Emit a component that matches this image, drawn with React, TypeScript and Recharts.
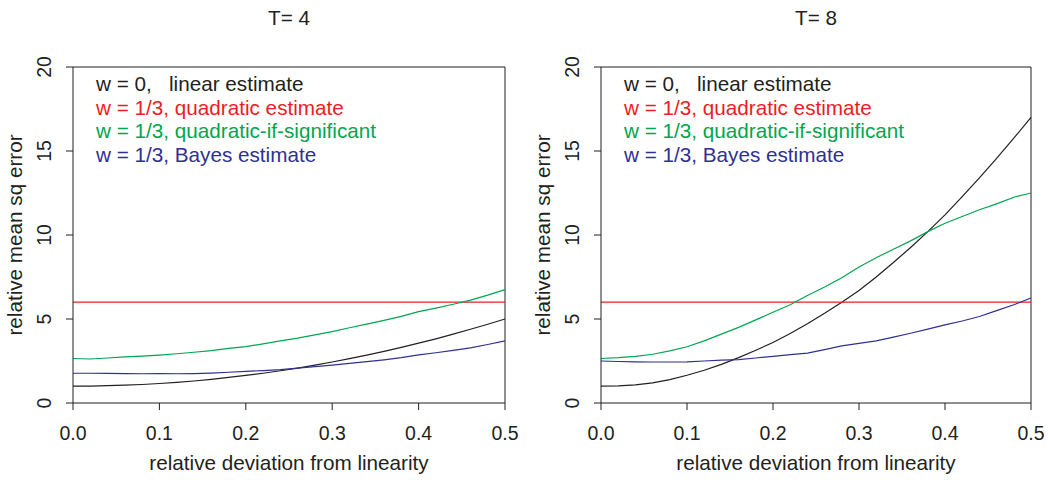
import React from 'react';
import { LineChart, Line, XAxis, YAxis, ReferenceLine } from 'recharts';

// relative deviation from linearity
const deviation = [
  0, 0.02, 0.04, 0.06, 0.08, 0.1, 0.12, 0.14, 0.16, 0.18, 0.2, 0.22, 0.24,
  0.26, 0.28, 0.3, 0.32, 0.34, 0.36, 0.38, 0.4, 0.42, 0.44, 0.46, 0.48, 0.5,
];

// T = 4
const linearT4 = [
  1.0, 1.01, 1.03, 1.06, 1.1, 1.16, 1.23, 1.31, 1.41, 1.52, 1.64, 1.77, 1.92,
  2.08, 2.25, 2.44, 2.64, 2.85, 3.07, 3.31, 3.56, 3.82, 4.1, 4.39, 4.69, 5.0,
];
const signifT4 = [
  2.65, 2.62, 2.68, 2.74, 2.79, 2.85, 2.93, 3.02, 3.12, 3.25, 3.36, 3.52, 3.7,
  3.86, 4.05, 4.25, 4.48, 4.7, 4.92, 5.16, 5.44, 5.65, 5.88, 6.12, 6.42, 6.75,
];
const bayesT4 = [
  1.77, 1.77, 1.76, 1.75, 1.74, 1.75, 1.74, 1.75, 1.78, 1.83, 1.88, 1.93, 1.99,
  2.08, 2.16, 2.26, 2.36, 2.46, 2.57, 2.7, 2.86, 2.99, 3.13, 3.28, 3.48, 3.7,
];
const quadraticT4 = 6;

// T = 8
const linearT8 = [
  1.0, 1.02, 1.08, 1.2, 1.39, 1.65, 1.95, 2.3, 2.7, 3.14, 3.6, 4.14, 4.72,
  5.34, 6.0, 6.7, 7.5, 8.36, 9.26, 10.2, 11.2, 12.28, 13.4, 14.56, 15.76, 17.0,
];
const signifT8 = [
  2.65, 2.7, 2.78, 2.9, 3.1, 3.35, 3.7, 4.1, 4.5, 4.95, 5.4, 5.85, 6.4,
  6.9, 7.45, 8.1, 8.65, 9.15, 9.65, 10.2, 10.7, 11.1, 11.5, 11.85, 12.25, 12.5,
];
const bayesT8 = [
  2.5, 2.47, 2.45, 2.44, 2.44, 2.45, 2.5, 2.55, 2.58, 2.68, 2.78, 2.88, 2.97,
  3.18, 3.4, 3.55, 3.7, 3.92, 4.15, 4.4, 4.65, 4.88, 5.15, 5.5, 5.85, 6.25,
];
const quadraticT8 = 6;

const xTicks = [0, 0.1, 0.2, 0.3, 0.4, 0.5];
const yTicks = [0, 5, 10, 15, 20];

const legendLines = [
  { text: 'w = 0,   linear estimate', color: '#231F20' },
  { text: 'w = 1/3, quadratic estimate', color: '#ED1C24' },
  { text: 'w = 1/3, quadratic-if-significant', color: '#00A651' },
  { text: 'w = 1/3, Bayes estimate', color: '#2E3192' },
];

const INK = '#231F20';
const FONT = '"Liberation Sans", Arial, Helvetica, sans-serif';
const W = 524;
const H = 480;
const TEXT_SIZE = 20.7;
const TICK_SIZE = 19.5;

const YTick = (props: any) => {
  const { x, y, payload } = props;
  return (
    <text
      transform={`translate(${x - 13}, ${y}) rotate(-90)`}
      textAnchor="middle"
      fontSize={TICK_SIZE}
      fontFamily={FONT}
      fill={INK}
    >
      {payload.value}
    </text>
  );
};

const XTick = (props: any) => {
  const { x, y, payload } = props;
  return (
    <text x={x} y={y + 28} textAnchor="middle" fontSize={TICK_SIZE} fontFamily={FONT} fill={INK}>
      {Number(payload.value).toFixed(1)}
    </text>
  );
};

interface PanelProps {
  title: string;
  linear: number[];
  signif: number[];
  bayes: number[];
  quadratic: number;
  left: number;
  plotLeft: number;
  plotRight: number;
}

function Panel({ title, linear, signif, bayes, quadratic, left, plotLeft, plotRight }: PanelProps) {
  const data = deviation.map((d, i) => ({
    x: d,
    linear: linear[i],
    signif: signif[i],
    bayes: bayes[i],
  }));
  const yAxisW = 40;
  const cx = (plotLeft + plotRight) / 2;
  return (
    <div style={{ position: 'absolute', left, top: 0, width: W, height: H }}>
      <LineChart
        width={W}
        height={H}
        data={data}
        margin={{ top: 67, right: W - plotRight, left: plotLeft - yAxisW, bottom: 47 }}
      >
        <XAxis
          dataKey="x"
          type="number"
          domain={[0, 0.5]}
          ticks={xTicks}
          tickSize={7}
          height={30}
          interval={0}
          stroke={INK}
          tick={<XTick />}
        />
        <YAxis
          type="number"
          domain={[0, 20]}
          ticks={yTicks}
          tickSize={7}
          width={yAxisW}
          interval={0}
          stroke={INK}
          tick={<YTick />}
        />
        <ReferenceLine y={20} stroke={INK} strokeWidth={1} />
        <ReferenceLine x={0.5} stroke={INK} strokeWidth={1} />
        <Line type="linear" dataKey="linear" stroke={INK} strokeWidth={1.2} dot={false} isAnimationActive={false} />
        <ReferenceLine y={quadratic} stroke="#ED1C24" strokeWidth={1.2} />
        <Line type="linear" dataKey="signif" stroke="#00A651" strokeWidth={1.2} dot={false} isAnimationActive={false} />
        <Line type="linear" dataKey="bayes" stroke="#2E3192" strokeWidth={1.2} dot={false} isAnimationActive={false} />
      </LineChart>
      <svg
        width={W}
        height={H}
        style={{ position: 'absolute', left: 0, top: 0, pointerEvents: 'none' }}
        fontFamily={FONT}
      >
        <text x={cx} y={25} textAnchor="middle" fontSize={TEXT_SIZE} fill={INK}>
          {title}
        </text>
        {legendLines.map((l, i) => (
          <text
            key={i}
            x={plotLeft + 23}
            y={91 + i * 23.7}
            fontSize={TEXT_SIZE}
            fill={l.color}
            style={{ whiteSpace: 'pre' }}
          >
            {l.text}
          </text>
        ))}
        <text x={cx} y={470} textAnchor="middle" fontSize={TEXT_SIZE} fill={INK}>
          relative deviation from linearity
        </text>
        <text
          transform={`translate(${plotLeft - 51}, 235) rotate(-90)`}
          textAnchor="middle"
          fontSize={TEXT_SIZE}
          fill={INK}
        >
          relative mean sq error
        </text>
      </svg>
    </div>
  );
}

export default function App() {
  return (
    <div style={{ position: 'absolute', left: 0, top: 0, width: 1048, height: 480, background: '#fff' }}>
      <Panel
        title="T= 4"
        linear={linearT4}
        signif={signifT4}
        bayes={bayesT4}
        quadratic={quadraticT4}
        left={0}
        plotLeft={73}
        plotRight={505}
      />
      <Panel
        title="T= 8"
        linear={linearT8}
        signif={signifT8}
        bayes={bayesT8}
        quadratic={quadraticT8}
        left={524}
        plotLeft={77}
        plotRight={507}
      />
    </div>
  );
}
